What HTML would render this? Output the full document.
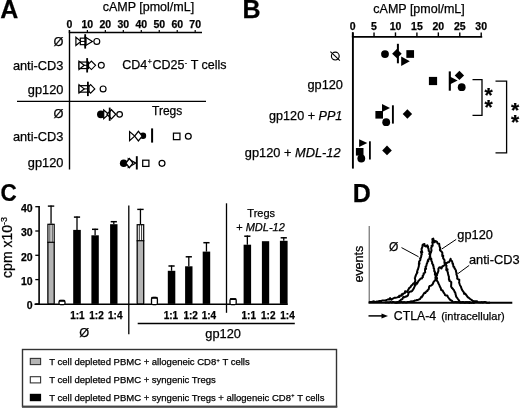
<!DOCTYPE html>
<html><head><meta charset="utf-8"><style>
html,body{margin:0;padding:0;background:#fff;}
body{width:520px;height:408px;overflow:hidden;position:relative;font-family:"Liberation Sans", sans-serif;}
svg text{font-family:"Liberation Sans", sans-serif;stroke:#000;stroke-width:0.25px;}
svg{will-change:transform;}
</style></head><body>
<svg width="520" height="408" viewBox="0 0 520 408" style="position:absolute;left:0;top:0">
<g fill="#000">
<text x="0.3" y="18.4" font-size="25" font-weight="bold" font-style="normal" text-anchor="start" >A</text>
<text x="102.7" y="10.9" font-size="12.5" font-weight="normal" font-style="normal" text-anchor="start" >cAMP [pmol/mL]</text>
<text x="69.4" y="28.3" font-size="10.5" font-weight="bold" font-style="normal" text-anchor="middle" >0</text>
<line x1="69.4" y1="30" x2="69.4" y2="32.5" stroke="#000" stroke-width="1.2"/>
<text x="87.37" y="28.3" font-size="10.5" font-weight="bold" font-style="normal" text-anchor="middle" >10</text>
<line x1="87.37" y1="30" x2="87.37" y2="32.5" stroke="#000" stroke-width="1.2"/>
<text x="105.34" y="28.3" font-size="10.5" font-weight="bold" font-style="normal" text-anchor="middle" >20</text>
<line x1="105.34" y1="30" x2="105.34" y2="32.5" stroke="#000" stroke-width="1.2"/>
<text x="123.31" y="28.3" font-size="10.5" font-weight="bold" font-style="normal" text-anchor="middle" >30</text>
<line x1="123.31" y1="30" x2="123.31" y2="32.5" stroke="#000" stroke-width="1.2"/>
<text x="141.28" y="28.3" font-size="10.5" font-weight="bold" font-style="normal" text-anchor="middle" >40</text>
<line x1="141.28" y1="30" x2="141.28" y2="32.5" stroke="#000" stroke-width="1.2"/>
<text x="159.25" y="28.3" font-size="10.5" font-weight="bold" font-style="normal" text-anchor="middle" >50</text>
<line x1="159.25" y1="30" x2="159.25" y2="32.5" stroke="#000" stroke-width="1.2"/>
<text x="177.22" y="28.3" font-size="10.5" font-weight="bold" font-style="normal" text-anchor="middle" >60</text>
<line x1="177.22" y1="30" x2="177.22" y2="32.5" stroke="#000" stroke-width="1.2"/>
<text x="195.19" y="28.3" font-size="10.5" font-weight="bold" font-style="normal" text-anchor="middle" >70</text>
<line x1="195.19" y1="30" x2="195.19" y2="32.5" stroke="#000" stroke-width="1.2"/>
<line x1="68.8" y1="32.55" x2="202" y2="32.55" stroke="#000" stroke-width="1.4"/>
<line x1="69.5" y1="30" x2="69.5" y2="169.5" stroke="#000" stroke-width="1.4"/>
<line x1="17" y1="101.45" x2="206" y2="101.45" stroke="#000" stroke-width="1.3"/>
<text x="63.4" y="46.3" font-size="12.8" font-weight="normal" font-style="normal" text-anchor="end" >Ø</text>
<text x="63.4" y="69.9" font-size="12.8" font-weight="normal" font-style="normal" text-anchor="end" >anti-CD3</text>
<text x="63.4" y="93.7" font-size="12.8" font-weight="normal" font-style="normal" text-anchor="end" >gp120</text>
<text x="63.4" y="118.2" font-size="12.8" font-weight="normal" font-style="normal" text-anchor="end" >Ø</text>
<text x="63.4" y="141.0" font-size="12.8" font-weight="normal" font-style="normal" text-anchor="end" >anti-CD3</text>
<text x="63.4" y="166.5" font-size="12.8" font-weight="normal" font-style="normal" text-anchor="end" >gp120</text>
<text x="122.2" y="68.5" font-size="12.5">CD4<tspan font-size="7" dx="0.6" dy="-4.4">+</tspan><tspan dx="0.6" dy="4.4">CD25</tspan><tspan font-size="7" dx="0.3" dy="-3.8">-</tspan><tspan dx="0.3" dy="3.8"> T cells</tspan></text>
<text x="152" y="115" font-size="12" font-weight="normal" font-style="normal" text-anchor="start" >Tregs</text>
<polygon points="85.2,37.05 92.4,41.4 85.2,45.75" fill="#fff" stroke="#000" stroke-width="1.2"/>
<rect x="80.3" y="38.15" width="5.700000000000003" height="6.5" fill="#fff" stroke="#000" stroke-width="1.2"/>
<polygon points="75.9,37.3 80.8,41.4 75.9,45.5" fill="#fff" stroke="#000" stroke-width="1.2"/>
<line x1="80.3" y1="41.4" x2="86.0" y2="41.4" stroke="#000" stroke-width="1.0"/>
<circle cx="96.8" cy="41.4" r="2.95" fill="#fff" stroke="#000" stroke-width="1.15"/>
<rect x="84.3" y="34.199999999999996" width="1.8" height="14.400000000000006" fill="#000" stroke="none" stroke-width="0"/>
<polygon points="87.2,65.3 91.4,61.05 95.60000000000001,65.3 91.4,69.55" fill="#fff" stroke="#000" stroke-width="1.15"/>
<rect x="79.0" y="62.05" width="9.5" height="6.5" fill="#fff" stroke="#000" stroke-width="1.2"/>
<polygon points="79.0,61.199999999999996 84.2,65.3 79.0,69.39999999999999" fill="#fff" stroke="#000" stroke-width="1.2"/>
<line x1="83.7" y1="65.3" x2="88.5" y2="65.3" stroke="#000" stroke-width="1.0"/>
<circle cx="101.3" cy="65.3" r="2.95" fill="#fff" stroke="#000" stroke-width="1.15"/>
<rect x="86.25" y="58.099999999999994" width="1.8" height="14.400000000000006" fill="#000" stroke="none" stroke-width="0"/>
<polygon points="86.39999999999999,88.9 90.6,84.65 94.8,88.9 90.6,93.15" fill="#fff" stroke="#000" stroke-width="1.15"/>
<rect x="79.0" y="85.65" width="10.0" height="6.5" fill="#fff" stroke="#000" stroke-width="1.2"/>
<polygon points="79.0,84.80000000000001 84.2,88.9 79.0,93.0" fill="#fff" stroke="#000" stroke-width="1.2"/>
<line x1="83.7" y1="88.9" x2="89.0" y2="88.9" stroke="#000" stroke-width="1.0"/>
<circle cx="103.1" cy="88.9" r="2.95" fill="#fff" stroke="#000" stroke-width="1.15"/>
<rect x="87.0" y="81.7" width="1.8" height="14.400000000000006" fill="#000" stroke="none" stroke-width="0"/>
<circle cx="100.9" cy="114.3" r="3.9" fill="#000"/>
<polygon points="103.7,110.0 108.7,114.3 103.7,118.6" fill="#fff" stroke="#000" stroke-width="1.25" stroke-linejoin="miter"/>
<polygon points="107.0,114.3 111.4,109.7 115.80000000000001,114.3 111.4,118.89999999999999" fill="#fff" stroke="#000" stroke-width="1.25" stroke-linejoin="miter"/>
<circle cx="119.6" cy="114.3" r="2.8" fill="#fff" stroke="#000" stroke-width="1.25"/>
<rect x="108.8" y="107.6" width="1.8" height="13.200000000000003" fill="#000" stroke="none" stroke-width="0"/>
<polygon points="129.6,131.6 134.7,136.1 129.6,140.6" fill="#fff" stroke="#000" stroke-width="1.25" stroke-linejoin="miter"/>
<circle cx="143.0" cy="135.7" r="3.2" fill="#000"/>
<polygon points="134.6,136.1 138.4,131.29999999999998 142.20000000000002,136.1 138.4,140.9" fill="#fff" stroke="#000" stroke-width="1.25" stroke-linejoin="miter"/>
<rect x="151.1" y="128.4" width="2.0" height="14.199999999999989" fill="#000" stroke="none" stroke-width="0"/>
<rect x="173.45" y="133.15" width="6.5" height="6.5" fill="#fff" stroke="#000" stroke-width="1.25"/>
<circle cx="188.3" cy="136.3" r="2.9" fill="#fff" stroke="#000" stroke-width="1.25"/>
<polygon points="128.3,158.7 135.8,163.1 128.3,167.5" fill="#fff" stroke="#000" stroke-width="1.25" stroke-linejoin="miter"/>
<circle cx="123.7" cy="163.3" r="3.8" fill="#000"/>
<polygon points="125.9,163.1 129.4,158.5 132.9,163.1 129.4,167.7" fill="#fff" stroke="#000" stroke-width="1.25" stroke-linejoin="miter"/>
<rect x="135.85000000000002" y="156.2" width="1.9" height="13.300000000000011" fill="#000" stroke="none" stroke-width="0"/>
<rect x="142.70000000000002" y="160.20000000000002" width="6.2" height="6.2" fill="#fff" stroke="#000" stroke-width="1.25"/>
<circle cx="162.0" cy="163.3" r="2.95" fill="#fff" stroke="#000" stroke-width="1.25"/>
<text x="242.6" y="18.4" font-size="25" font-weight="bold" font-style="normal" text-anchor="start" >B</text>
<text x="373.3" y="12.9" font-size="12.5" font-weight="normal" font-style="normal" text-anchor="start" >cAMP [pmol/mL]</text>
<text x="352.6" y="30.2" font-size="10.5" font-weight="bold" font-style="normal" text-anchor="middle" >0</text>
<line x1="352.6" y1="32.4" x2="352.6" y2="36.8" stroke="#000" stroke-width="1.4"/>
<text x="374.04" y="30.2" font-size="10.5" font-weight="bold" font-style="normal" text-anchor="middle" >5</text>
<line x1="374.035" y1="32.4" x2="374.035" y2="36.8" stroke="#000" stroke-width="1.4"/>
<text x="395.47" y="30.2" font-size="10.5" font-weight="bold" font-style="normal" text-anchor="middle" >10</text>
<line x1="395.47" y1="32.4" x2="395.47" y2="36.8" stroke="#000" stroke-width="1.4"/>
<text x="416.91" y="30.2" font-size="10.5" font-weight="bold" font-style="normal" text-anchor="middle" >15</text>
<line x1="416.90500000000003" y1="32.4" x2="416.90500000000003" y2="36.8" stroke="#000" stroke-width="1.4"/>
<text x="438.34" y="30.2" font-size="10.5" font-weight="bold" font-style="normal" text-anchor="middle" >20</text>
<line x1="438.34000000000003" y1="32.4" x2="438.34000000000003" y2="36.8" stroke="#000" stroke-width="1.4"/>
<text x="459.78" y="30.2" font-size="10.5" font-weight="bold" font-style="normal" text-anchor="middle" >25</text>
<line x1="459.77500000000003" y1="32.4" x2="459.77500000000003" y2="36.8" stroke="#000" stroke-width="1.4"/>
<text x="481.21" y="30.2" font-size="10.5" font-weight="bold" font-style="normal" text-anchor="middle" >30</text>
<line x1="481.21000000000004" y1="32.4" x2="481.21000000000004" y2="36.8" stroke="#000" stroke-width="1.4"/>
<line x1="351.9" y1="36.9" x2="482.2" y2="36.9" stroke="#000" stroke-width="1.8"/>
<line x1="352.9" y1="32.3" x2="352.9" y2="168.6" stroke="#000" stroke-width="1.9"/>
<circle cx="335.3" cy="56.1" r="3.9" fill="none" stroke="#000" stroke-width="1.15"/>
<line x1="330.4" y1="51.7" x2="339.9" y2="60.7" stroke="#000" stroke-width="1.1"/>
<text x="343" y="88.9" font-size="12.8" font-weight="normal" font-style="normal" text-anchor="end" >gp120</text>
<text x="342.3" y="120.3" font-size="12.6" text-anchor="end">gp120 + <tspan font-style="italic">PP1</tspan></text>
<text x="340.5" y="156.6" font-size="12.8" text-anchor="end">gp120 + <tspan font-style="italic">MDL-12</tspan></text>
<circle cx="385.0" cy="54.1" r="3.9" fill="#000"/>
<polygon points="392.09999999999997,53.7 396.9,49.1 401.7,53.7 396.9,58.300000000000004" fill="#000"/>
<rect x="396.9" y="43.8" width="2.0" height="19.5" fill="#000" stroke="none" stroke-width="0"/>
<polygon points="401.2,56.5 409.8,61.2 401.2,65.9" fill="#000"/>
<rect x="406.34999999999997" y="50.15" width="7.7" height="7.7" fill="#000"/>
<rect x="428.9" y="76.9" width="8.2" height="8.2" fill="#000"/>
<rect x="448.75" y="71.4" width="2.1" height="19.299999999999997" fill="#000" stroke="none" stroke-width="0"/>
<polygon points="449.8,76.5 457.6,80.5 449.8,84.5" fill="#000"/>
<polygon points="454.7,75.4 459.4,70.7 464.09999999999997,75.4 459.4,80.10000000000001" fill="#000"/>
<circle cx="461.7" cy="87.2" r="3.9" fill="#000"/>
<rect x="375.4" y="111.0" width="7.6" height="7.6" fill="#000"/>
<polygon points="382.0,104.0 390.0,108.0 382.0,112.0" fill="#000"/>
<circle cx="386.2" cy="122.2" r="3.9" fill="#000"/>
<rect x="391.95" y="105.3" width="1.9" height="18.299999999999997" fill="#000" stroke="none" stroke-width="0"/>
<polygon points="402.7,114.0 407.4,109.15 412.09999999999997,114.0 407.4,118.85" fill="#000"/>
<polygon points="359.1,139.2 367.3,143.1 359.1,147.0" fill="#000"/>
<rect x="355.9" y="148.0" width="7.6" height="7.6" fill="#000"/>
<circle cx="361.3" cy="158.5" r="3.9" fill="#000"/>
<rect x="369.0" y="141.3" width="1.8" height="18.19999999999999" fill="#000" stroke="none" stroke-width="0"/>
<polygon points="382.2,150.4 387.0,145.6 391.8,150.4 387.0,155.20000000000002" fill="#000"/>
<polyline points="472.5,79.7 482,79.7 482,115.3 472.5,115.3" fill="none" stroke="#000" stroke-width="1.3"/>
<polyline points="495.5,81.1 506.6,81.1 506.6,152.8 495.5,152.8" fill="none" stroke="#000" stroke-width="1.3"/>
<text x="488.6" y="101.5" font-size="21" font-weight="bold" font-style="normal" text-anchor="middle" >*</text>
<text x="488.6" y="113.5" font-size="21" font-weight="bold" font-style="normal" text-anchor="middle" >*</text>
<text x="515.2" y="116.7" font-size="21" font-weight="bold" font-style="normal" text-anchor="middle" >*</text>
<text x="515.2" y="128.7" font-size="21" font-weight="bold" font-style="normal" text-anchor="middle" >*</text>
<text transform="translate(0.4,200.9) scale(0.9,0.965)" font-size="25" font-weight="bold">C</text>
<text x="32.6" y="309.1" font-size="10.5" font-weight="bold" font-style="normal" text-anchor="end" >0</text>
<line x1="35.3" y1="303.9" x2="39" y2="303.9" stroke="#000" stroke-width="1.3"/>
<text x="32.6" y="284.8" font-size="10.5" font-weight="bold" font-style="normal" text-anchor="end" >10</text>
<line x1="35.3" y1="279.59999999999997" x2="39" y2="279.59999999999997" stroke="#000" stroke-width="1.3"/>
<text x="32.6" y="260.5" font-size="10.5" font-weight="bold" font-style="normal" text-anchor="end" >20</text>
<line x1="35.3" y1="255.29999999999998" x2="39" y2="255.29999999999998" stroke="#000" stroke-width="1.3"/>
<text x="32.6" y="236.2" font-size="10.5" font-weight="bold" font-style="normal" text-anchor="end" >30</text>
<line x1="35.3" y1="230.99999999999997" x2="39" y2="230.99999999999997" stroke="#000" stroke-width="1.3"/>
<text x="32.6" y="211.9" font-size="10.5" font-weight="bold" font-style="normal" text-anchor="end" >40</text>
<line x1="35.3" y1="206.7" x2="39" y2="206.7" stroke="#000" stroke-width="1.3"/>
<line x1="39.1" y1="206.0" x2="39.1" y2="304.6" stroke="#000" stroke-width="1.6"/>
<line x1="34.5" y1="304.25" x2="287.8" y2="304.25" stroke="#000" stroke-width="1.4"/>
<line x1="128.8" y1="205.6" x2="128.8" y2="334.3" stroke="#000" stroke-width="1.3"/>
<line x1="226.5" y1="203.3" x2="226.5" y2="312.8" stroke="#000" stroke-width="1.3"/>
<line x1="137.7" y1="323.6" x2="294.8" y2="323.6" stroke="#000" stroke-width="1.5"/>
<rect x="47.3" y="242.3" width="7.5" height="61.599999999999966" fill="#b4b4b4" stroke="none" stroke-width="0"/>
<rect x="47.3" y="223.7" width="7.5" height="18.600000000000023" fill="#fff" stroke="none" stroke-width="0"/>
<rect x="47.9" y="224.29999999999998" width="6.3" height="79.6" fill="none" stroke="#000" stroke-width="1.2"/>
<line x1="47.3" y1="242.3" x2="54.8" y2="242.3" stroke="#000" stroke-width="1.2"/>
<line x1="51.05" y1="205.5" x2="51.05" y2="223.7" stroke="#000" stroke-width="1.3"/>
<line x1="49.9" y1="223.7" x2="49.9" y2="242.3" stroke="#000" stroke-width="0.8"/>
<line x1="52.199999999999996" y1="223.7" x2="52.199999999999996" y2="242.3" stroke="#000" stroke-width="0.8"/>
<line x1="47.849999999999994" y1="206.1" x2="54.25" y2="206.1" stroke="#000" stroke-width="1.4"/>
<rect x="59.0" y="300.5" width="5.999999999999996" height="4.199999999999989" rx="1.5" fill="#fff" stroke="#000" stroke-width="1.3"/>
<rect x="59.0" y="299.9" width="5.999999999999996" height="1.8" fill="#000" stroke="none" stroke-width="0"/>
<rect x="73.2" y="229.9" width="7.599999999999994" height="73.99999999999997" fill="#000" stroke="none" stroke-width="0"/>
<line x1="77.0" y1="216.5" x2="77.0" y2="229.9" stroke="#000" stroke-width="1.3"/>
<line x1="73.9" y1="217.1" x2="80.1" y2="217.1" stroke="#000" stroke-width="1.5"/>
<rect x="91.4" y="235.3" width="7.3999999999999915" height="68.59999999999997" fill="#000" stroke="none" stroke-width="0"/>
<line x1="95.1" y1="228.7" x2="95.1" y2="235.3" stroke="#000" stroke-width="1.3"/>
<line x1="92.0" y1="229.29999999999998" x2="98.19999999999999" y2="229.29999999999998" stroke="#000" stroke-width="1.5"/>
<rect x="110.1" y="224.2" width="7.400000000000006" height="79.69999999999999" fill="#000" stroke="none" stroke-width="0"/>
<line x1="113.8" y1="221.1" x2="113.8" y2="224.2" stroke="#000" stroke-width="1.3"/>
<line x1="110.7" y1="221.7" x2="116.89999999999999" y2="221.7" stroke="#000" stroke-width="1.5"/>
<rect x="136.6" y="240.7" width="7.700000000000017" height="63.19999999999999" fill="#b4b4b4" stroke="none" stroke-width="0"/>
<rect x="136.6" y="224.1" width="7.700000000000017" height="16.599999999999994" fill="#fff" stroke="none" stroke-width="0"/>
<rect x="137.2" y="224.7" width="6.500000000000017" height="79.19999999999999" fill="none" stroke="#000" stroke-width="1.2"/>
<line x1="136.6" y1="240.7" x2="144.3" y2="240.7" stroke="#000" stroke-width="1.2"/>
<line x1="140.45" y1="208.8" x2="140.45" y2="224.1" stroke="#000" stroke-width="1.3"/>
<line x1="139.29999999999998" y1="224.1" x2="139.29999999999998" y2="240.7" stroke="#000" stroke-width="0.8"/>
<line x1="141.6" y1="224.1" x2="141.6" y2="240.7" stroke="#000" stroke-width="0.8"/>
<line x1="137.25" y1="209.4" x2="143.64999999999998" y2="209.4" stroke="#000" stroke-width="1.4"/>
<rect x="151.5" y="297.5" width="5.899999999999994" height="7.199999999999989" rx="1.5" fill="#fff" stroke="#000" stroke-width="1.3"/>
<rect x="151.5" y="296.9" width="5.899999999999994" height="1.8" fill="#000" stroke="none" stroke-width="0"/>
<rect x="167.8" y="270.8" width="7.5" height="33.099999999999966" fill="#000" stroke="none" stroke-width="0"/>
<line x1="171.55" y1="265.4" x2="171.55" y2="270.8" stroke="#000" stroke-width="1.3"/>
<line x1="168.45000000000002" y1="266.0" x2="174.65" y2="266.0" stroke="#000" stroke-width="1.5"/>
<rect x="185.1" y="266.3" width="7.400000000000006" height="37.599999999999966" fill="#000" stroke="none" stroke-width="0"/>
<line x1="188.8" y1="256.2" x2="188.8" y2="266.3" stroke="#000" stroke-width="1.3"/>
<line x1="185.70000000000002" y1="256.8" x2="191.9" y2="256.8" stroke="#000" stroke-width="1.5"/>
<rect x="202.7" y="251.6" width="7.5" height="52.29999999999998" fill="#000" stroke="none" stroke-width="0"/>
<line x1="206.45" y1="242.1" x2="206.45" y2="251.6" stroke="#000" stroke-width="1.3"/>
<line x1="203.35" y1="242.7" x2="209.54999999999998" y2="242.7" stroke="#000" stroke-width="1.5"/>
<rect x="230.0" y="298.8" width="6.2000000000000055" height="5.899999999999977" rx="1.5" fill="#fff" stroke="#000" stroke-width="1.3"/>
<rect x="230.0" y="298.2" width="6.2000000000000055" height="1.8" fill="#000" stroke="none" stroke-width="0"/>
<rect x="243.6" y="244.7" width="7.5" height="59.19999999999999" fill="#000" stroke="none" stroke-width="0"/>
<line x1="247.35" y1="235.6" x2="247.35" y2="244.7" stroke="#000" stroke-width="1.3"/>
<line x1="244.25" y1="236.2" x2="250.45" y2="236.2" stroke="#000" stroke-width="1.5"/>
<rect x="261.9" y="241.2" width="7.300000000000011" height="62.69999999999999" fill="#000" stroke="none" stroke-width="0"/>
<rect x="279.9" y="240.8" width="7.7000000000000455" height="63.099999999999966" fill="#000" stroke="none" stroke-width="0"/>
<line x1="283.75" y1="237.2" x2="283.75" y2="240.8" stroke="#000" stroke-width="1.3"/>
<line x1="280.65" y1="237.79999999999998" x2="286.85" y2="237.79999999999998" stroke="#000" stroke-width="1.5"/>
<text x="77.4" y="319.4" font-size="10" font-weight="bold" font-style="normal" text-anchor="middle" >1:1</text>
<text x="96.5" y="319.4" font-size="10" font-weight="bold" font-style="normal" text-anchor="middle" >1:2</text>
<text x="115.3" y="319.4" font-size="10" font-weight="bold" font-style="normal" text-anchor="middle" >1:4</text>
<text x="170.9" y="319.4" font-size="10" font-weight="bold" font-style="normal" text-anchor="middle" >1:1</text>
<text x="190.7" y="319.4" font-size="10" font-weight="bold" font-style="normal" text-anchor="middle" >1:2</text>
<text x="208.9" y="319.4" font-size="10" font-weight="bold" font-style="normal" text-anchor="middle" >1:4</text>
<text x="248.8" y="319.4" font-size="10" font-weight="bold" font-style="normal" text-anchor="middle" >1:1</text>
<text x="268.3" y="319.4" font-size="10" font-weight="bold" font-style="normal" text-anchor="middle" >1:2</text>
<text x="287.5" y="319.4" font-size="10" font-weight="bold" font-style="normal" text-anchor="middle" >1:4</text>
<text x="84.3" y="337.2" font-size="12.8" font-weight="normal" font-style="normal" text-anchor="middle" >Ø</text>
<text x="223.1" y="338.0" font-size="12.8" font-weight="normal" font-style="normal" text-anchor="middle" >gp120</text>
<text x="261.2" y="217.3" font-size="11" font-weight="normal" font-style="normal" text-anchor="middle" >Tregs</text>
<text x="260.5" y="230.7" font-size="11" text-anchor="middle">+ <tspan font-style="italic">MDL-12</tspan></text>
<text transform="translate(11.9,277.9) rotate(-90)" font-size="14">cpm x10<tspan font-size="9" dy="-5.2">-3</tspan></text>
<rect x="22.5" y="349.5" width="314" height="57" fill="#fff" stroke="#333" stroke-width="1.4"/>
<line x1="22" y1="406.8" x2="337.3" y2="406.8" stroke="#444" stroke-width="2.0"/>
<rect x="30.3" y="358.4" width="10.3" height="6.2" fill="#b4b4b4" stroke="#333" stroke-width="1.1"/>
<rect x="30.3" y="376.7" width="10.3" height="6.2" fill="#fff" stroke="#333" stroke-width="1.1"/>
<rect x="29.8" y="393.8" width="11.3" height="7.4" fill="#000" stroke="none" stroke-width="0"/>
<text x="49.3" y="365.2" font-size="9.5">T cell depleted PBMC + allogeneic CD8<tspan font-size="5.5" dx="0.3" dy="-3.3">+</tspan><tspan dx="0.2" dy="3.3"> T cells</tspan></text>
<text x="49.3" y="383.3" font-size="9.5">T cell depleted PBMC + syngenic Tregs</text>
<text x="49.3" y="400.6" font-size="9.5">T cell depleted PBMC + syngenic Tregs + allogeneic CD8<tspan font-size="5.5" dx="0.3" dy="-3.3">+</tspan><tspan dx="0.2" dy="3.3"> T cells</tspan></text>
<text x="352.7" y="202" font-size="25" font-weight="bold" font-style="normal" text-anchor="start" >D</text>
<line x1="369.2" y1="226" x2="369.2" y2="303" stroke="#555" stroke-width="1.0"/>
<line x1="368.5" y1="302.8" x2="512.3" y2="302.8" stroke="#000" stroke-width="2.0"/>
<text transform="translate(363.2,282.6) rotate(-90)" font-size="12.5">events</text>
<text x="389.0" y="250.6" font-size="12" font-weight="normal" font-style="normal" text-anchor="start" >Ø</text>
<text x="457.3" y="239.2" font-size="12.8" font-weight="normal" font-style="normal" text-anchor="start" >gp120</text>
<text x="469.0" y="263.8" font-size="12.8" font-weight="normal" font-style="normal" text-anchor="start" >anti-CD3</text>
<line x1="401.5" y1="247.6" x2="418.6" y2="256.8" stroke="#000" stroke-width="1.0"/>
<line x1="441.5" y1="249.2" x2="456.2" y2="239.4" stroke="#000" stroke-width="1.0"/>
<line x1="457.7" y1="273.8" x2="469.2" y2="265.4" stroke="#000" stroke-width="1.0"/>
<line x1="368.5" y1="315.9" x2="383" y2="315.9" stroke="#000" stroke-width="1.5"/>
<polygon points="381.5,313.4 388,315.9 381.5,318.4" fill="#000"/>
<text x="393.8" y="319.6" font-size="12.3" font-weight="normal" font-style="normal" text-anchor="start" >CTLA-4</text>
<text x="441.2" y="319.6" font-size="11" font-weight="normal" font-style="normal" text-anchor="start" >(intracellular)</text>
<polyline points="369.0,302.3 370.1,301.9 371.1,301.9 371.8,302.0 373.3,301.3 374.0,301.4 375.2,302.0 376.2,301.7 377.0,301.4 378.5,301.3 379.4,301.0 380.1,301.1 381.4,301.0 382.1,300.4 383.4,300.5 384.4,300.6 385.7,300.3 386.7,300.0 387.6,299.5 388.7,299.3 389.3,299.5 390.1,298.1 391.4,299.8 392.3,298.8 393.4,298.3 394.7,297.7 395.6,297.8 397.2,297.4 398.3,297.0 399.4,296.9 399.2,295.8 401.4,295.7 401.7,294.2 402.8,294.6 403.3,293.5 404.9,293.1 405.1,291.2 407.5,292.0 407.8,290.5 409.0,288.5 408.9,288.3 410.6,287.0 410.4,287.3 411.2,285.7 412.7,284.4 413.1,283.7 414.6,282.9 415.3,280.7 415.2,279.5 414.8,278.0 415.0,277.6 415.8,275.6 415.7,275.5 417.0,273.0 417.4,272.6 417.0,272.0 417.1,271.9 417.6,269.8 418.0,269.3 418.3,268.0 418.4,267.9 418.9,265.7 418.9,264.8 418.9,263.1 419.5,263.7 419.1,261.6 420.2,260.2 420.6,258.1 420.1,258.5 421.0,257.4 421.3,256.0 421.2,255.4 421.8,254.5 420.9,251.9 422.3,252.4 421.7,250.4 421.6,250.2 421.6,248.7 422.0,248.0 422.5,246.5 422.5,245.2 423.0,244.5 424.5,244.0 424.6,245.9 426.0,246.5 427.3,245.3 428.1,246.7 427.8,247.3 428.6,249.0 428.7,250.9 429.6,251.4 429.7,251.8 429.3,254.1 429.8,254.3 430.2,256.7 430.4,257.0 430.3,258.9 431.3,258.7 431.4,261.1 431.3,260.6 432.2,262.3 432.1,263.4 433.3,265.1 432.8,264.6 433.7,267.2 433.6,268.2 434.1,268.5 434.1,268.7 434.3,271.3 434.8,271.3 435.0,272.5 434.9,274.7 436.3,273.6 435.9,275.8 436.9,277.9 437.1,278.1 436.4,280.5 437.1,280.7 438.2,282.5 438.4,283.5 438.7,283.9 439.6,285.6 439.7,286.2 440.8,288.3 441.2,290.0 442.6,290.5 443.7,292.7 444.7,294.0 445.0,295.1 445.7,295.4 447.3,295.4 447.9,297.0 449.4,299.0 450.6,300.2 452.1,301.0 453.0,302.1 453.9,302.2 455.2,301.9 456.2,302.2 456.8,302.1 458.2,302.3 459.2,302.0 460.2,302.7 460.7,302.6 462.2,302.5 462.9,302.0 464.0,302.2 465.0,302.4 465.7,302.7 466.8,302.1 467.8,302.2 469.2,303.0 470.0,302.6" fill="none" stroke="#000" stroke-width="2.0" stroke-linejoin="round"/>
<polyline points="385.0,302.6 386.0,302.2 386.9,302.3 388.1,302.3 388.9,302.5 389.9,302.1 391.0,302.0 391.9,302.5 392.8,301.9 394.1,302.1 394.9,302.5 396.1,302.5 396.9,302.1 398.0,302.1 399.2,301.3 400.2,300.5 401.0,299.7 402.5,299.0 403.2,297.1 404.9,297.2 405.4,296.6 406.3,296.6 408.0,295.4 408.6,292.8 410.2,291.4 411.3,291.6 412.1,290.9 413.0,289.6 414.0,288.0 414.8,286.0 414.9,284.7 415.4,285.5 416.2,282.8 417.0,283.7 418.7,280.6 418.9,280.7 420.6,278.6 421.8,278.6 422.5,277.0 423.0,277.1 422.7,275.7 423.8,274.6 423.6,273.4 425.2,272.5 425.0,270.9 425.1,268.7 426.1,268.8 425.5,266.9 426.4,265.8 426.4,265.9 426.7,263.9 427.2,263.1 427.5,261.7 428.0,260.1 428.3,261.2 428.3,259.6 429.6,258.5 429.6,257.0 429.9,256.4 430.3,254.8 429.9,254.8 431.0,251.8 430.9,252.7 431.5,250.5 431.4,249.6 431.2,247.8 431.8,246.7 431.5,245.9 432.7,245.8 432.5,243.7 432.9,242.9 432.2,242.3 432.7,241.0 432.3,239.1 433.3,238.6 433.5,239.8 433.9,240.3 434.5,242.3 435.7,241.0 437.0,241.8 437.6,243.5 439.2,243.8 439.4,245.9 439.7,246.9 440.2,248.0 439.9,249.9 440.0,250.2 441.9,252.0 442.4,253.0 442.2,254.9 443.2,255.7 442.3,256.1 443.2,256.5 443.1,258.2 444.5,260.1 444.5,261.1 444.4,263.0 444.8,262.4 445.7,263.4 446.3,266.0 446.5,265.6 446.3,267.2 446.5,267.8 446.2,269.9 447.6,269.4 447.2,270.9 447.9,272.7 447.7,272.4 448.2,274.6 448.5,275.7 448.9,276.4 448.9,279.4 449.4,279.5 449.3,280.8 450.5,281.4 451.3,282.2 451.2,284.4 451.1,286.6 451.9,287.9 452.9,288.7 453.0,289.3 453.9,290.0 454.7,292.1 455.2,292.4 455.5,294.2 456.3,296.5 456.1,296.7 457.1,297.8 457.9,299.0 458.8,300.2 459.4,301.1 460.4,302.1 461.5,302.3 462.7,301.9 463.3,302.4 464.4,302.7 465.7,302.1 466.7,302.4 467.7,302.5 468.6,302.2 469.9,302.0 470.9,302.7 471.8,302.7 472.8,302.3 473.7,302.9 475.0,302.6" fill="none" stroke="#000" stroke-width="2.0" stroke-linejoin="round"/>
<polyline points="395.0,302.6 395.9,302.6 396.9,302.8 397.9,302.3 399.1,302.5 400.2,302.3 400.9,302.0 401.8,302.0 403.1,302.6 403.8,302.0 405.1,302.2 406.1,302.5 406.8,302.3 407.8,302.0 409.0,302.1 410.0,301.8 410.9,301.3 411.8,301.5 413.2,301.2 413.9,301.1 415.0,300.5 416.3,300.2 416.9,300.0 418.0,299.9 419.1,299.4 420.0,299.0 421.2,296.9 421.7,297.3 422.6,295.9 423.5,294.2 424.4,292.8 425.2,293.1 426.1,291.7 427.5,290.8 427.3,290.5 428.7,289.3 429.2,286.6 429.6,286.0 431.0,285.6 432.5,284.5 433.3,282.8 433.3,282.4 434.7,280.7 435.1,280.3 435.6,279.2 435.4,277.6 435.9,275.8 437.1,275.2 437.1,274.1 437.8,272.7 438.4,270.9 438.4,268.8 439.2,267.5 440.2,267.2 441.4,268.5 442.3,266.5 443.3,266.0 444.5,265.2 445.7,263.6 446.9,263.0 447.7,262.3 448.8,262.3 449.3,261.7 450.5,259.2 450.6,258.7 451.0,260.4 451.8,260.8 452.4,262.3 452.5,263.7 453.0,263.7 453.4,266.6 454.3,267.2 454.5,268.3 455.1,269.0 456.1,270.9 455.9,271.7 456.0,271.9 456.7,273.2 456.3,274.0 457.0,275.9 457.3,277.0 457.2,278.7 458.1,279.2 459.3,279.6 459.2,281.9 459.1,282.5 459.7,284.3 460.3,285.8 461.0,286.8 461.0,287.2 462.0,289.8 462.8,291.1 463.5,291.7 464.2,293.9 465.2,293.6 466.5,295.4 467.9,297.3 468.4,297.5 470.2,299.0 471.7,300.0 472.4,300.7 473.9,301.5 474.7,301.2 475.7,301.3 477.0,301.3 477.8,302.1 478.9,302.3 480.2,302.2 480.7,302.4 482.0,301.9 482.7,302.5 484.1,302.0 484.9,301.9 486.1,302.2 486.8,302.8 488.1,302.7 489.0,302.8 490.0,302.6" fill="none" stroke="#000" stroke-width="2.0" stroke-linejoin="round"/>
</g></svg>
</body></html>
